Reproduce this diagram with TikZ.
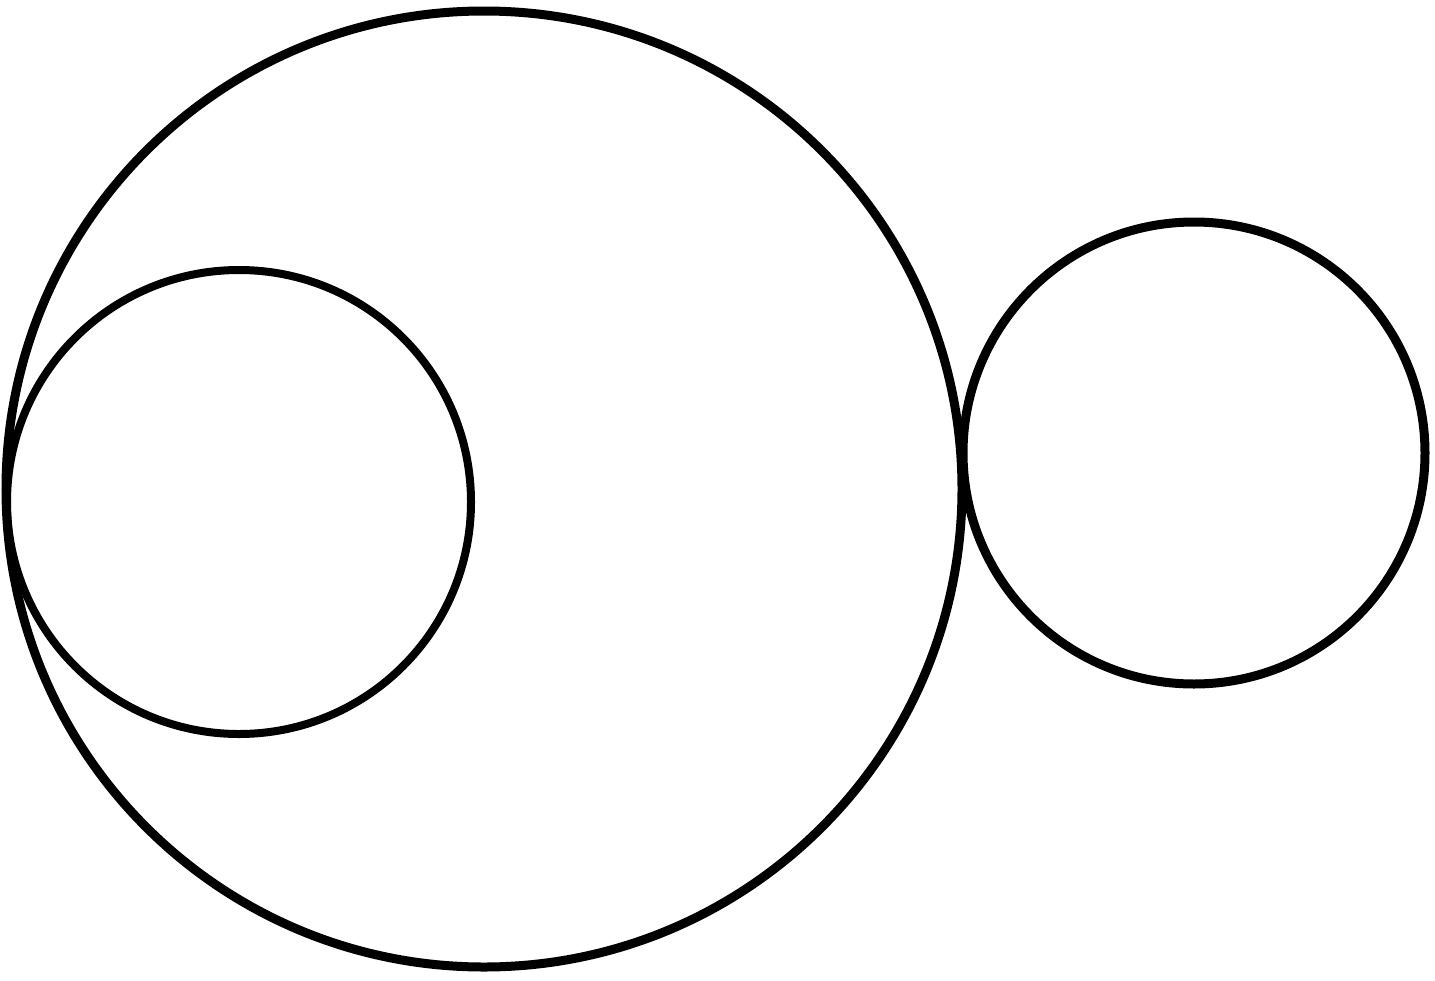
\documentclass[tikz,border=0pt]{standalone}
\usepackage{tikz}
\usetikzlibrary{positioning}

\tikzset{rim/.style={line width=8pt, black}}

\begin{document}
\begin{tikzpicture}[x=1pt, y=-1pt]
            % Frame of the figure
            \useasboundingbox (0,0) rectangle (1435,980);

            % Centres
            \coordinate (big) at (484,489);
            \coordinate (inner) at (239,502);
            \coordinate (outer) at (1194,453);

            % Large circle
            \draw[rim, line width=9pt] (big) circle (478);

            % Small circle touching it from inside
            \draw[rim] (inner) circle (232);

            % Small circle touching it from outside
            \draw[rim, line width=9pt] (outer) circle (231);
      \end{tikzpicture}
\end{document}
